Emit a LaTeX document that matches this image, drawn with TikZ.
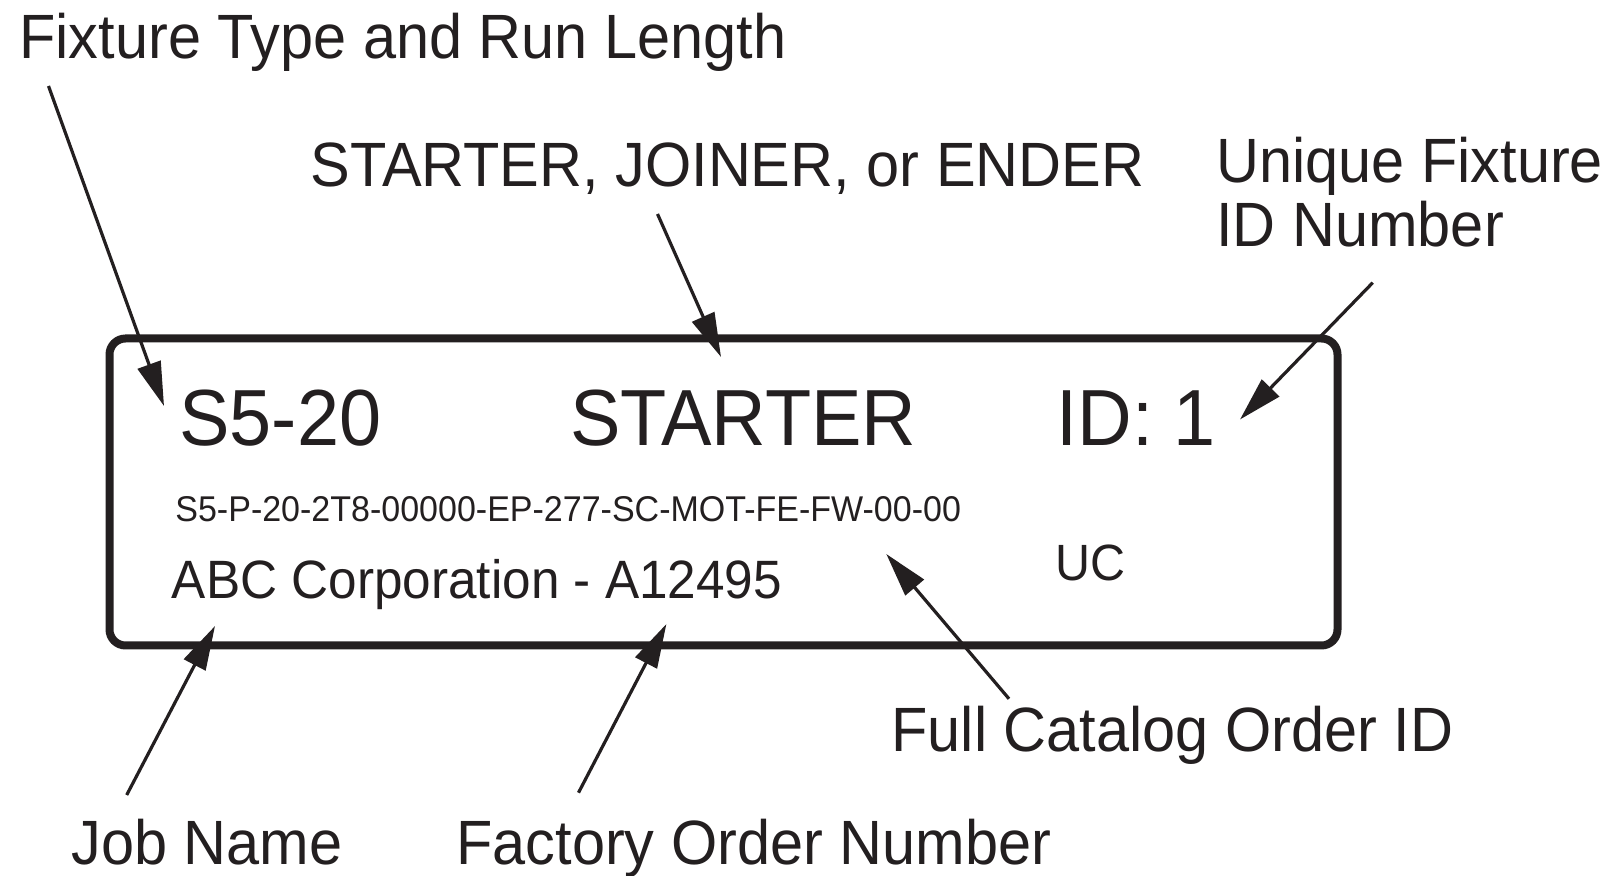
\documentclass[tikz,border=0pt]{standalone}
\usepackage{fontspec}
\setmainfont{Liberation Sans}[FakeStretch=0.95]
\usepackage{xcolor}
\usetikzlibrary{arrows.meta}
\definecolor{ink}{HTML}{231F20}

\begin{document}
\begin{tikzpicture}[x=0.5pt, y=-0.5pt,
      callout/.style={anchor=base west, inner sep=0pt, text=ink,
                      font=\fontsize{31.3}{36}\selectfont},
      big/.style={anchor=base west, inner sep=0pt, text=ink,
                  font=\fontsize{39.8}{44}\selectfont},
      mid/.style={anchor=base west, inner sep=0pt, text=ink,
                  font=\fontsize{27}{30}\selectfont},
      small/.style={anchor=base west, inner sep=0pt, text=ink,
                    font=\fontsize{17.9}{20}\selectfont},
      plate/.style={draw=ink, line width=4pt, rounded corners=8pt,
                    minimum width=614pt, minimum height=153.5pt, inner sep=0pt},
      arr/.style={-{Triangle[length=22pt, width=12pt]}, line width=1.6pt, draw=ink}]
    \useasboundingbox (0,0) rectangle (1614,876);
    % the label plate
    \node[plate] (label) at (723.5,492) {};
    \node[big] (type) at (179,446) {S5-20};
    \node[big] (kind) at (570,446) {STARTER};
    \node[big] (id) at (1056,446) {ID: 1};
    \node[small] (catalog) at (175,521.7) {S5-P-20-2T8-00000-EP-277-SC-MOT-FE-FW-00-00};
    \node[mid] (job) at (171.5,599) {ABC Corporation - A12495};
    \node[mid, font=\fontsize{25.5}{28}\selectfont] (uc) at (1055.5,580.7) {UC};
    % callouts round it
    \node[callout] (typelbl) at (19,59) {Fixture Type and Run Length};
    \node[callout] (kindlbl) at (310,187) {STARTER, JOINER, or ENDER};
    \node[callout] (idlbl) at (1216,182.7) {Unique Fixture};
    \node[callout] (idlbl2) at (1216,246.7) {ID Number};
    \node[callout] (catlbl) at (891,751.5) {Full Catalog Order ID};
    \node[callout] (joblbl) at (71,865) {Job Name};
    \node[callout] (orderlbl) at (456,865) {Factory Order Number};
    % arrow ends
    \coordinate (typetail) at (48.5,86);    \coordinate (typetip) at (164,406);
    \coordinate (kindtail) at (657.5,214);  \coordinate (kindtip) at (721,357);
    \coordinate (idtail) at (1372.7,282.7); \coordinate (idtip) at (1240,419.5);
    \coordinate (cattail) at (1009,698.8);  \coordinate (cattip) at (886.3,554);
    \coordinate (jobtail) at (126.7,795);   \coordinate (jobtip) at (215,626);
    \coordinate (ordertail) at (578.5,792.7); \coordinate (ordertip) at (666.4,624);
    \draw[arr] (typetail) -- (typetip);
    \draw[arr] (kindtail) -- (kindtip);
    \draw[arr] (idtail) -- (idtip);
    \draw[arr] (cattail) -- (cattip);
    \draw[arr] (jobtail) -- (jobtip);
    \draw[arr] (ordertail) -- (ordertip);
\end{tikzpicture}
\end{document}
